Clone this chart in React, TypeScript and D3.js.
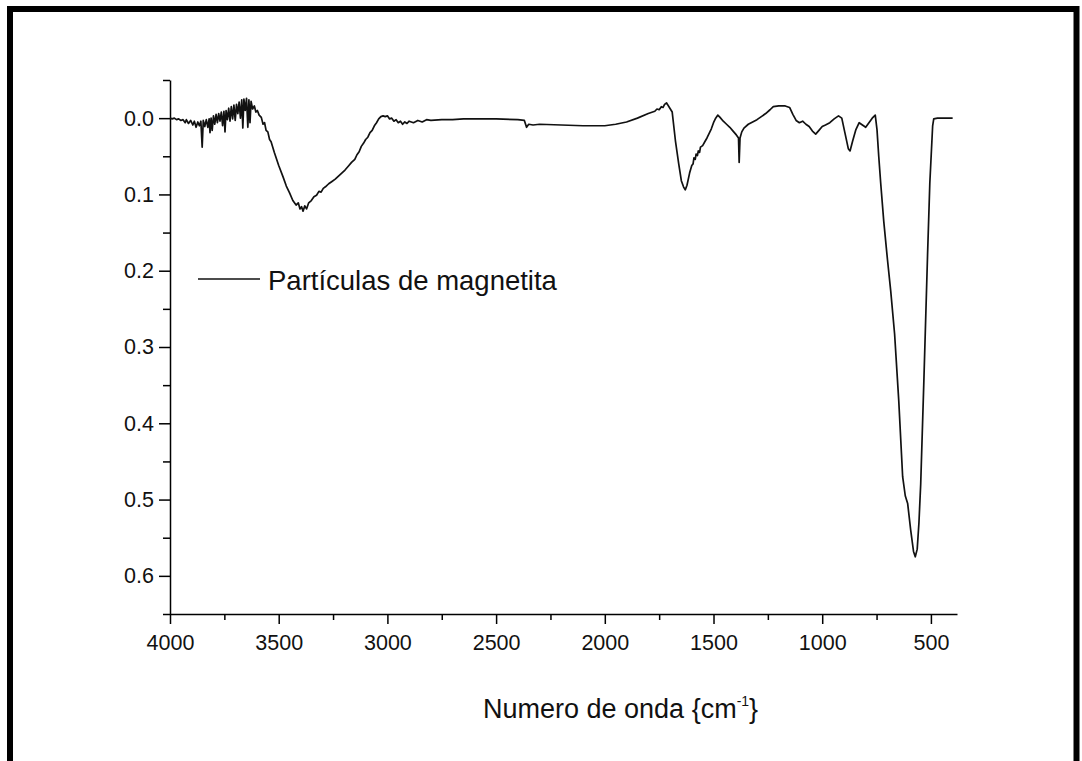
import React, { useEffect, useRef } from 'react';
import * as d3 from 'd3';

const xMajorTicks = [4000, 3500, 3000, 2500, 2000, 1500, 1000, 500];
const xMinorTicks = [3750, 3250, 2750, 2250, 1750, 1250, 750];
const yMajorTicks = [0, 0.1, 0.2, 0.3, 0.4, 0.5, 0.6];
const yMinorTicks = [-0.05, 0.05, 0.15, 0.25, 0.35, 0.45, 0.55, 0.65];
const seriesName = 'Partículas de magnetita';

// [numero de onda (cm-1), absorbancia]
const spectrum: [number, number][] = [
  [4000, 0.000], [3990, 0.001], [3980, 0.000], [3970, 0.002], [3960, 0.001],
  [3950, 0.003], [3940, 0.002], [3930, 0.006], [3925, 0.002], [3915, 0.007],
  [3905, 0.003], [3895, 0.009], [3888, 0.004], [3880, 0.012], [3872, 0.005],
  [3865, 0.010], [3858, 0.004], [3852, 0.038], [3847, 0.003], [3840, 0.011],
  [3833, 0.002], [3826, 0.012], [3820, 0.001], [3816, 0.019], [3811, 0.000],
  [3806, 0.016], [3800, -0.003], [3794, 0.008], [3788, -0.005], [3782, 0.006],
  [3776, -0.006], [3770, 0.004], [3764, -0.008], [3758, 0.010], [3752, -0.009],
  [3747, 0.018], [3742, -0.010], [3736, 0.002], [3730, -0.013], [3724, 0.004],
  [3718, -0.015], [3712, 0.001], [3706, -0.017], [3700, 0.003], [3694, -0.018],
  [3688, -0.006], [3682, -0.021], [3676, 0.000], [3670, -0.024], [3665, 0.013],
  [3660, -0.025], [3654, -0.010], [3648, -0.026], [3642, 0.012], [3637, -0.024],
  [3632, 0.006], [3627, -0.022], [3620, -0.012], [3612, -0.016], [3605, -0.008],
  [3598, -0.010], [3590, -0.004], [3580, -0.001], [3572, 0.008], [3565, 0.006],
  [3558, 0.016], [3550, 0.018], [3542, 0.028], [3535, 0.031], [3520, 0.045],
  [3500, 0.062], [3480, 0.077], [3465, 0.089],
  [3450, 0.098], [3435, 0.108], [3420, 0.114], [3410, 0.111], [3402, 0.119],
  [3395, 0.116], [3388, 0.122], [3380, 0.115], [3372, 0.119], [3362, 0.111],
  [3350, 0.108], [3338, 0.103], [3326, 0.101], [3315, 0.096], [3305, 0.097],
  [3295, 0.092], [3285, 0.090], [3270, 0.086], [3255, 0.083], [3240, 0.080],
  [3225, 0.076], [3210, 0.072], [3195, 0.068], [3180, 0.063], [3165, 0.058],
  [3150, 0.054], [3140, 0.048], [3130, 0.044], [3120, 0.037], [3110, 0.033],
  [3100, 0.028], [3090, 0.025], [3080, 0.019], [3070, 0.016], [3060, 0.010],
  [3050, 0.006], [3040, 0.001], [3030, -0.002], [3020, -0.003], [3010, -0.002],
  [3000, -0.003], [2990, 0.001], [2980, 0.000], [2970, 0.004], [2960, 0.002],
  [2950, 0.006], [2940, 0.004], [2930, 0.008], [2920, 0.005], [2910, 0.007],
  [2900, 0.004], [2880, 0.006], [2860, 0.003], [2840, 0.005], [2820, 0.002],
  [2800, 0.003], [2750, 0.002], [2700, 0.002], [2650, 0.001], [2600, 0.001],
  [2500, 0.001], [2400, 0.002], [2370, 0.003], [2360, 0.012], [2350, 0.008],
  [2330, 0.009], [2300, 0.008], [2200, 0.009], [2100, 0.010], [2000, 0.010],
  [1950, 0.008], [1900, 0.005], [1850, 0.000], [1800, -0.006], [1780, -0.008],
  [1770, -0.009], [1760, -0.012], [1750, -0.011], [1740, -0.015], [1732, -0.014],
  [1725, -0.018], [1716, -0.020], [1705, -0.015],
  [1690, -0.008], [1675, 0.030], [1660, 0.060], [1648, 0.082], [1638, 0.090],
  [1630, 0.094], [1622, 0.088], [1610, 0.072], [1600, 0.062], [1594, 0.060],
  [1590, 0.052], [1584, 0.054], [1580, 0.047], [1574, 0.049], [1570, 0.043],
  [1564, 0.045], [1560, 0.038], [1550, 0.036], [1540, 0.031],
  [1530, 0.026], [1520, 0.020], [1510, 0.014], [1500, 0.006], [1490, 0.000],
  [1480, -0.004], [1470, -0.001], [1455, 0.004], [1440, 0.008], [1425, 0.012],
  [1410, 0.017], [1395, 0.022], [1385, 0.026], [1382, 0.058], [1378, 0.026],
  [1370, 0.018], [1360, 0.013], [1340, 0.008], [1320, 0.005], [1300, 0.002],
  [1280, -0.002], [1260, -0.006], [1240, -0.011], [1225, -0.015], [1200, -0.016],
  [1170, -0.016], [1150, -0.014], [1135, -0.005], [1120, 0.003], [1105, 0.006],
  [1090, 0.004], [1075, 0.008], [1060, 0.011], [1045, 0.017], [1030, 0.021],
  [1015, 0.016], [1000, 0.011], [985, 0.009], [965, 0.006], [945, 0.001],
  [925, -0.003], [910, 0.000], [895, 0.020], [880, 0.040], [872, 0.043],
  [860, 0.030], [845, 0.015], [830, 0.006], [815, 0.009], [800, 0.012],
  [785, 0.006], [770, 0.000], [756, -0.004], [748, 0.015], [740, 0.050],
  [731, 0.085], [717, 0.135], [700, 0.185], [685, 0.226], [667, 0.283],
  [648, 0.370], [630, 0.470], [618, 0.495], [607, 0.505], [593, 0.540],
  [580, 0.568], [572, 0.575], [563, 0.565], [555, 0.530], [547, 0.480],
  [533, 0.350], [515, 0.175], [505, 0.085], [492, 0.010], [487, 0.001],
  [470, 0.000], [440, 0.000], [400, 0.000],
];

const FONT = '"Liberation Sans", Arial, sans-serif';

export default function App() {
  const ref = useRef<SVGSVGElement>(null);

  useEffect(() => {
    const margin = { top: 80, left: 170 };
    const width = 787;
    const height = 534;

    const root = d3.select(ref.current);
    root.selectAll('*').remove();

    // marco negro de la figura
    root.append('rect')
      .attr('x', 10)
      .attr('y', 9)
      .attr('width', 1066.5)
      .attr('height', 800)
      .attr('fill', 'none')
      .attr('stroke', '#000')
      .attr('stroke-width', 6);

    const svg = root.append('g')
      .attr('transform', `translate(${margin.left},${margin.top})`);

    const xScale = d3.scaleLinear().domain([4000, 380]).range([0, width]);
    const yScale = d3.scaleLinear().domain([-0.05, 0.65]).range([0, height]);

    // ticks menores
    svg.append('g')
      .attr('transform', `translate(0,${height})`)
      .call(d3.axisBottom(xScale).tickValues(xMinorTicks).tickSize(6).tickFormat(() => ''))
      .call(g => g.select('.domain').remove());
    svg.append('g')
      .call(d3.axisLeft(yScale).tickValues(yMinorTicks).tickSize(7).tickFormat(() => ''))
      .call(g => g.select('.domain').remove());

    const xAxis = svg.append('g')
      .attr('transform', `translate(0,${height})`)
      .call(d3.axisBottom(xScale).tickValues(xMajorTicks).tickSize(10).tickSizeOuter(0).tickPadding(11).tickFormat(d3.format('d')));
    const yAxis = svg.append('g')
      .call(d3.axisLeft(yScale).tickValues(yMajorTicks).tickSize(11).tickSizeOuter(0).tickPadding(5).tickFormat(d3.format('.1f')));

    [xAxis, yAxis].forEach(ax => {
      ax.selectAll('text')
        .attr('font-family', FONT)
        .attr('font-size', 21.5)
        .attr('fill', '#111');
    });
    svg.selectAll('.domain, .tick line')
      .attr('stroke', '#000')
      .attr('stroke-width', 1.5);

    const line = d3.line<[number, number]>()
      .x(d => xScale(d[0]))
      .y(d => yScale(d[1]));

    svg.append('path')
      .datum(spectrum)
      .attr('fill', 'none')
      .attr('stroke', '#111')
      .attr('stroke-width', 1.7)
      .attr('stroke-linejoin', 'round')
      .attr('d', line);

    // leyenda
    root.append('line')
      .attr('x1', 198).attr('x2', 260)
      .attr('y1', 279).attr('y2', 279)
      .attr('stroke', '#111')
      .attr('stroke-width', 1.5);
    root.append('text')
      .attr('x', 268)
      .attr('y', 290)
      .attr('font-family', FONT)
      .attr('font-size', 27.5)
      .attr('fill', '#111')
      .text(seriesName);

    // titulo eje x
    const title = root.append('text')
      .attr('x', 483)
      .attr('y', 718)
      .attr('font-family', FONT)
      .attr('font-size', 27)
      .attr('fill', '#111');
    title.append('tspan').text('Numero de onda {cm');
    title.append('tspan').attr('font-size', 14).attr('dy', -12).text('-1');
    title.append('tspan').attr('dy', 12).text('}');
  }, []);

  return (
    <svg
      ref={ref}
      width={1082}
      height={761}
      style={{ position: 'absolute', left: 0, top: 0, background: '#fff' }}
    />
  );
}
